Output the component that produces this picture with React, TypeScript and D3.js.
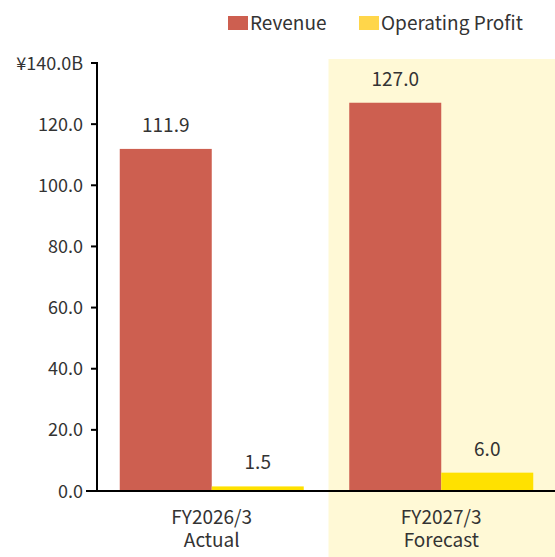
import React from "react";
import * as d3 from "d3";

const categories = ["FY2026/3|Actual", "FY2027/3|Forecast"];
const seriesNames = ["Revenue", "Operating Profit"];
const revenue = [111.9, 127.0];
const operatingProfit = [1.5, 6.0];
const yTicks = [0, 20, 40, 60, 80, 100, 120, 140];

const W = 555;
const H = 557;
const font = "'Noto Sans CJK JP', 'Noto Sans', sans-serif";
const textColor = "#333";
const barColors = ["#CD5F50", "#FFE100"];
const legendColors = ["#CD5F50", "#FFD64A"];
const fs = 19;

export default function App() {
  const axisX = 97;
  const y = d3.scaleLinear().domain([0, 140]).range([491, 63]);
  const x0 = d3.scaleBand<string>().domain(categories).range([axisX, 556]).paddingInner(0).paddingOuter(0);
  const groupW = 184;
  const x1 = d3.scaleBand<string>().domain(seriesNames).range([0, groupW]).padding(0);
  const data = categories.map((c, i) => ({ c, vals: [revenue[i], operatingProfit[i]] }));
  const forecastStart = (x0(categories[1]) as number) + 2;

  return (
    <svg width={W} height={H} style={{ position: "absolute", left: 0, top: 0, display: "block" }}>
      <rect x={0} y={0} width={W} height={H} fill="#fff" />
      <rect x={forecastStart} y={59} width={W - forecastStart} height={H - 59} fill="#FFF9D6" />
      {/* legend */}
      {seriesNames.map((s, i) => {
        const lx = i === 0 ? 228 : 359;
        return (
          <g key={s}>
            <rect x={lx} y={16} width={20} height={14} fill={legendColors[i]} />
            <text x={lx + 22} y={29.5} fontFamily={font} fontSize={fs} fill={textColor}>{s}</text>
          </g>
        );
      })}
      {/* bars */}
      {data.map((d) => {
        const gx = (x0(d.c) as number) + (x0.bandwidth() - groupW) / 2;
        return (
          <g key={d.c}>
            {d.vals.map((v, j) => {
              const bx = gx + (x1(seriesNames[j]) as number);
              const bw = x1.bandwidth();
              return (
                <g key={j}>
                  <rect x={bx} y={y(v)} width={bw} height={y(0) - y(v)} fill={barColors[j]} />
                  <text x={bx + bw / 2} y={y(v) - 17} textAnchor="middle" fontFamily={font} fontSize={fs} fill={textColor}>
                    {v.toFixed(1)}
                  </text>
                </g>
              );
            })}
          </g>
        );
      })}
      {/* y axis */}
      <line x1={axisX} x2={axisX} y1={y(140) - 1} y2={y(0)} stroke="#000" strokeWidth={2} />
      {yTicks.map((t) => (
        <g key={t}>
          <line x1={axisX - 6} x2={axisX} y1={y(t)} y2={y(t)} stroke="#000" strokeWidth={2} />
          <text x={83} y={y(t) + 6.5} textAnchor="end" fontFamily={font} fontSize={18} fill={textColor}>
            {t === 140 ? "¥140.0B" : t.toFixed(1)}
          </text>
        </g>
      ))}
      {/* baseline */}
      <line x1={86} x2={W} y1={y(0)} y2={y(0)} stroke="#000" strokeWidth={2} />
      {/* x labels */}
      {categories.map((c) => {
        const cx = (x0(c) as number) + x0.bandwidth() / 2;
        const [a, b] = c.split("|");
        return (
          <text key={c} x={cx} y={524} textAnchor="middle" fontFamily={font} fontSize={fs} fill={textColor}>
            <tspan x={cx} dy={0}>{a}</tspan>
            <tspan x={cx} dy={23}>{b}</tspan>
          </text>
        );
      })}
    </svg>
  );
}
